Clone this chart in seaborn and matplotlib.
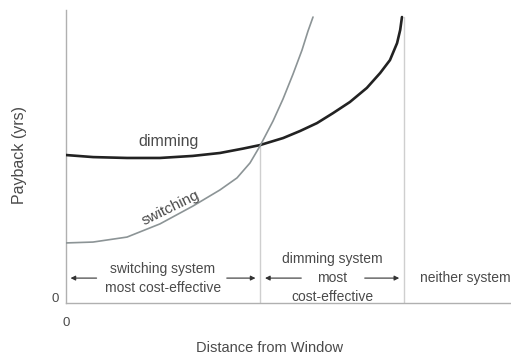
import matplotlib
matplotlib.use("Agg")
import matplotlib.pyplot as plt
import seaborn as sns
import pandas as pd

# Payback curves along distance from the window (0-100) and payback (0-10)
dim_x = [0, 6.1, 13.7, 21.1, 28.5, 34.6, 39.8, 43.6, 48.8, 52.6, 56.4, 60.0,
         63.8, 67.6, 70.6, 72.8, 74.4, 75.1, 75.5]
dim_y = [5.05, 4.98, 4.95, 4.95, 5.02, 5.12, 5.27, 5.39, 5.63, 5.87, 6.14, 6.48,
         6.86, 7.34, 7.85, 8.29, 8.87, 9.32, 9.76]

sw_x = [0, 6.07, 13.71, 21.12, 28.54, 34.61, 38.43, 41.35, 43.6, 46.52, 48.76,
        51.01, 53.03, 54.38, 55.51]
sw_y = [2.05, 2.08, 2.25, 2.70, 3.31, 3.86, 4.27, 4.78, 5.36, 6.21, 6.96,
        7.81, 8.63, 9.28, 9.76]

crossover_x = 43.6
crossover_y = 5.38
limit_x = 76.0

curve_labels = ["dimming", "switching"]
region_labels = ["switching system\nmost cost-effective",
                 "dimming system\nmost\ncost-effective",
                 "neither system"]

df = pd.concat([
    pd.DataFrame({"distance": dim_x, "payback": dim_y, "system": curve_labels[0]}),
    pd.DataFrame({"distance": sw_x, "payback": sw_y, "system": curve_labels[1]}),
])

sns.set_theme(style="white")
plt.rcParams["font.family"] = ["Liberation Sans", "DejaVu Sans"]

fig = plt.figure(figsize=(5.11, 3.56), dpi=100)
ax = fig.add_axes([66 / 511, 53 / 356, 1 - 66 / 511, 293 / 356])

text_c = "#4a4a4a"

# guide lines marking the region boundaries
ax.plot([crossover_x, crossover_x], [0, crossover_y], color="#cfcfcf", lw=1.0, zorder=1)
ax.plot([limit_x, limit_x], [0, 9.75], color="#cfcfcf", lw=1.0, zorder=1)

sns.lineplot(data=df, x="distance", y="payback", hue="system", sort=False,
             palette={"dimming": "#222222", "switching": "#8c9496"},
             size="system", sizes={"dimming": 1.9, "switching": 1.2},
             legend=False, ax=ax, zorder=3)
for line in ax.get_lines():
    line.set_solid_joinstyle("round")
    line.set_solid_capstyle("round")

ax.set_xlim(0, 100)
ax.set_ylim(0, 10)

for side in ["top", "right"]:
    ax.spines[side].set_visible(False)
for side in ["left", "bottom"]:
    ax.spines[side].set_color("#b0b0b0")
    ax.spines[side].set_linewidth(1.0)

ax.set_xticks([0])
ax.set_yticks([0.2])
ax.set_xticklabels(["0"], color=text_c, fontsize=9.5)
ax.set_yticklabels(["0"], color=text_c, fontsize=9.5)
ax.tick_params(axis="x", length=0, pad=10)
ax.tick_params(axis="y", length=0, pad=5)
ax.set_xlabel("Distance from Window", fontsize=10.5, color=text_c)
ax.set_ylabel("Payback (yrs)", fontsize=11.5, color=text_c)
ax.xaxis.set_label_coords(0.458, -0.128)
ax.yaxis.set_label_coords(-0.088, 0.505)

# curve names
ax.text(23, 5.5, curve_labels[0], fontsize=11.5, color=text_c, ha="center", va="center")
ax.text(23.5, 3.25, curve_labels[1], fontsize=11, color=text_c, ha="center", va="center",
        rotation=26)

# region annotations with double arrows
arr_y = 0.85
ax.text(crossover_x / 2, arr_y, region_labels[0], fontsize=10, color=text_c,
        ha="center", va="center", linespacing=1.45)
ax.text((crossover_x + limit_x) / 2, arr_y, region_labels[1], fontsize=10, color=text_c,
        ha="center", va="center", linespacing=1.45)
ax.text(79.5, arr_y, region_labels[2], fontsize=10, color=text_c, ha="left", va="center")

arrow_kw = dict(arrowstyle="-|>", color="#333333", lw=0.8, mutation_scale=7)
ax.annotate("", xy=(0.4, arr_y), xytext=(7.5, arr_y), arrowprops=arrow_kw)
ax.annotate("", xy=(crossover_x - 0.4, arr_y), xytext=(35.5, arr_y), arrowprops=arrow_kw)
ax.annotate("", xy=(crossover_x + 0.5, arr_y), xytext=(53.5, arr_y), arrowprops=arrow_kw)
ax.annotate("", xy=(limit_x - 0.5, arr_y), xytext=(66.5, arr_y), arrowprops=arrow_kw)

fig.savefig("out.png", dpi=100)
